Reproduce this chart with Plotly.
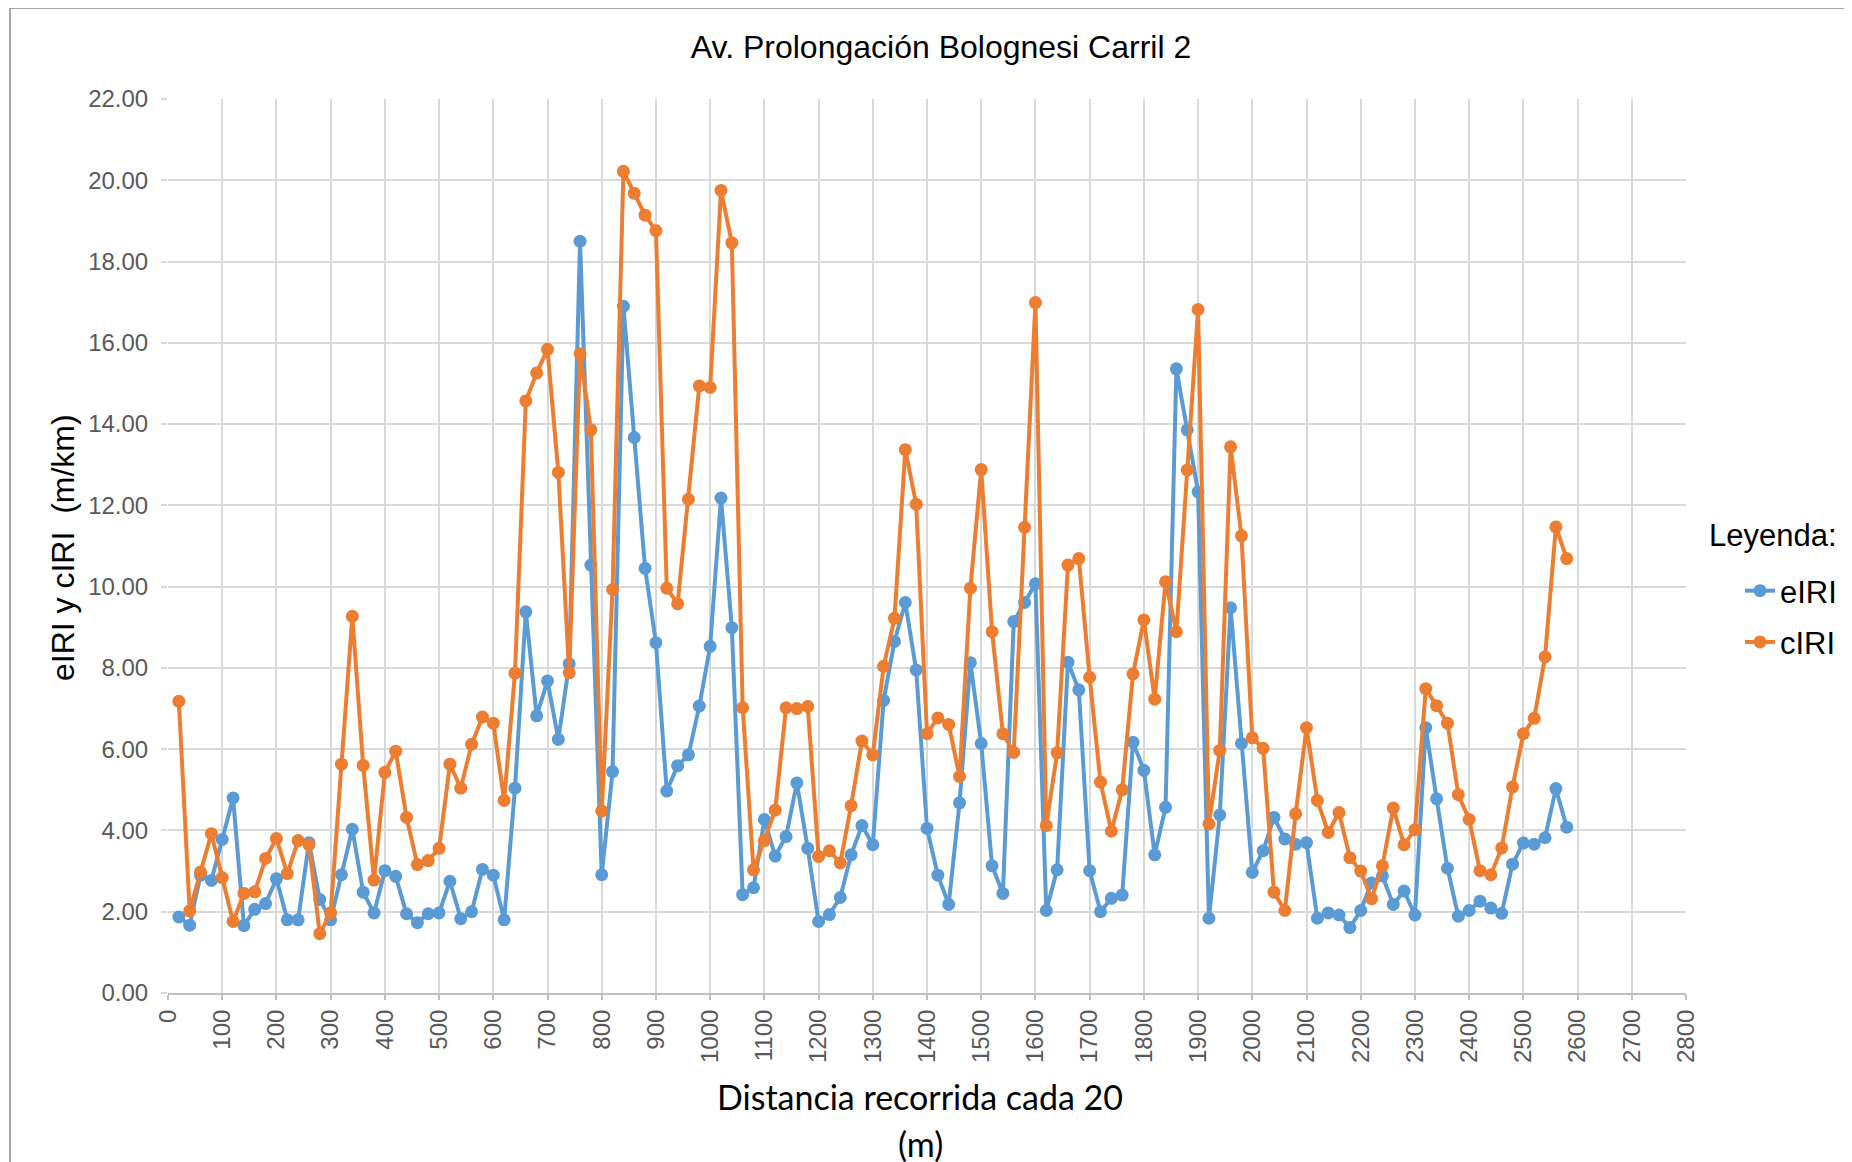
import plotly.graph_objects as go

# distance along the lane (m), one reading every 20 m
distancia = list(range(20, 2600, 20))

eiri = [1.87, 1.67, 2.90, 2.77, 3.78, 4.80, 1.66, 2.06, 2.20, 2.81,
        1.80, 1.80, 3.70, 2.30, 1.80, 2.91, 4.03, 2.48, 1.97, 3.01,
        2.87, 1.95, 1.73, 1.95, 1.97, 2.75, 1.83, 2.00, 3.04, 2.90,
        1.80, 5.04, 9.38, 6.82, 7.68, 6.24, 8.10, 18.50, 10.53, 2.91,
        5.45, 16.90, 13.67, 10.45, 8.62, 4.97, 5.59, 5.86, 7.06, 8.53,
        12.18, 8.99, 2.42, 2.59, 4.27, 3.37, 3.85, 5.17, 3.56, 1.76,
        1.93, 2.35, 3.40, 4.12, 3.65, 7.20, 8.65, 9.61, 7.95, 4.05,
        2.90, 2.18, 4.68, 8.13, 6.14, 3.13, 2.45, 9.14, 9.61, 10.07,
        2.03, 3.03, 8.14, 7.46, 3.01, 2.00, 2.33, 2.41, 6.17, 5.48,
        3.40, 4.57, 15.36, 13.86, 12.33, 1.84, 4.38, 9.48, 6.14, 2.97,
        3.50, 4.32, 3.79, 3.66, 3.70, 1.84, 1.97, 1.92, 1.61, 2.03,
        2.71, 2.88, 2.18, 2.51, 1.92, 6.53, 4.78, 3.07, 1.89, 2.03,
        2.26, 2.09, 1.96, 3.17, 3.69, 3.66, 3.82, 5.03, 4.08]

ciri = [7.18, 2.02, 2.98, 3.92, 2.84, 1.76, 2.45, 2.49, 3.31, 3.80,
        2.94, 3.75, 3.65, 1.46, 1.97, 5.63, 9.27, 5.60, 2.78, 5.43,
        5.95, 4.32, 3.16, 3.26, 3.56, 5.63, 5.04, 6.12, 6.79, 6.64,
        4.74, 7.87, 14.57, 15.26, 15.84, 12.81, 7.88, 15.73, 13.86, 4.48,
        9.93, 20.22, 19.68, 19.14, 18.76, 9.96, 9.58, 12.15, 14.94, 14.90,
        19.75, 18.46, 7.02, 3.03, 3.75, 4.50, 7.02, 7.00, 7.05, 3.36,
        3.50, 3.20, 4.61, 6.20, 5.86, 8.04, 9.22, 13.37, 12.03, 6.38,
        6.77, 6.61, 5.33, 9.96, 12.88, 8.89, 6.38, 5.92, 11.46, 16.99,
        4.12, 5.91, 10.53, 10.69, 7.77, 5.19, 3.98, 5.00, 7.85, 9.18,
        7.23, 10.12, 8.89, 12.87, 16.82, 4.16, 5.97, 13.44, 11.25, 6.28,
        6.02, 2.48, 2.03, 4.41, 6.53, 4.74, 3.95, 4.44, 3.33, 3.00,
        2.32, 3.13, 4.55, 3.65, 4.02, 7.49, 7.07, 6.64, 4.88, 4.27,
        3.01, 2.91, 3.57, 5.07, 6.38, 6.76, 8.27, 11.47, 10.69]

W, H = 1852, 1162
OFF = 8  # default body margin of the html page
# plot area as it should sit on the page
PL, PR, PT, PB = 168, 1686, 99, 993
ML, MT = PL - OFF, PT - OFF
MR, MB = OFF + W - PR, OFF + H - PB
PW, PH = PR - PL, PB - PT

FONT = "Liberation Sans, Arial, sans-serif"
GRID = "#D9D9D9"


def px_x(p):
    return (p - PL) / PW


def px_y(p):
    return (PB - p) / PH


fig = go.Figure()
fig.add_trace(go.Scatter(x=distancia, y=eiri, mode='lines+markers', name='eIRI',
                         legendgroup='e',
                         line=dict(color='#5B9BD5', width=4),
                         marker=dict(color='#5B9BD5', size=13)))
fig.add_trace(go.Scatter(x=distancia, y=ciri, mode='lines+markers', name='cIRI',
                         legendgroup='c',
                         line=dict(color='#ED7D31', width=4),
                         marker=dict(color='#ED7D31', size=13)))

fig.update_layout(
    width=W, height=H,
    margin=dict(l=ML, r=MR, t=MT, b=MB, pad=0),
    paper_bgcolor='white', plot_bgcolor='white',
    font=dict(family=FONT, color='#000000'),
    title=dict(text="Av. Prolongación Bolognesi Carril 2",
               font=dict(size=32, color='#000000'),
               x=(941 - OFF) / W, xref='container', xanchor='center',
               y=1 - (47 - OFF) / H, yref='container', yanchor='middle'),
    xaxis=dict(range=[0, 2800], dtick=100, tick0=0, tickangle=-90,
               showgrid=True, gridcolor=GRID, gridwidth=2,
               zeroline=False, showline=True, linecolor='#BFBFBF', linewidth=2,
               ticks='outside', ticklen=5, tickcolor='#BFBFBF', tickwidth=2,
               ticklabelstandoff=0,
               tickfont=dict(size=24, color='#595959')),
    yaxis=dict(range=[0, 22], dtick=2, tick0=0, tickformat='.2f',
               showgrid=True, gridcolor=GRID, gridwidth=2,
               zeroline=False, showline=False,
               ticks='outside', ticklen=6, tickcolor=GRID, tickwidth=2,
               ticklabelstandoff=8,
               tickfont=dict(size=24, color='#595959')),
    legend=dict(font=dict(size=31, color='#000000'),
                x=px_x(1740), xanchor='left', y=px_y(564), yanchor='top',
                bgcolor='rgba(0,0,0,0)', itemwidth=30,
                traceorder='grouped', tracegroupgap=8),
    showlegend=True,
)

fig.add_annotation(text="Leyenda:", xref='paper', yref='paper',
                   x=px_x(1707), y=px_y(535), xanchor='left', yanchor='middle',
                   showarrow=False, font=dict(size=31, color='#000000'))
fig.add_annotation(text="eIRI y cIRI\u00a0\u00a0(m/km)", textangle=-90,
                   xref='paper', yref='paper', x=px_x(63), y=px_y(548),
                   xanchor='center', yanchor='middle', showarrow=False,
                   font=dict(size=32, color='#000000'))
fig.add_annotation(text="Distancia recorrida cada 20",
                   xref='paper', yref='paper', x=px_x(920), y=px_y(1096),
                   xanchor='center', yanchor='middle', showarrow=False,
                   font=dict(size=34, color='#000000', family="Lato, sans-serif"))
fig.add_annotation(text="(m)",
                   xref='paper', yref='paper', x=px_x(920), y=px_y(1143),
                   xanchor='center', yanchor='middle', showarrow=False,
                   font=dict(size=34, color='#000000', family="Lato, sans-serif"))

# outer chart frame (left and top edges visible)
fig.add_shape(type='line', xref='paper', yref='paper',
              x0=px_x(10), x1=px_x(10), y0=px_y(8), y1=px_y(H + 20),
              line=dict(color='#A6A6A6', width=2))
fig.add_shape(type='line', xref='paper', yref='paper',
              x0=px_x(10), x1=px_x(W + 20), y0=px_y(8), y1=px_y(8),
              line=dict(color='#A6A6A6', width=2))

fig.write_html("out.html")
